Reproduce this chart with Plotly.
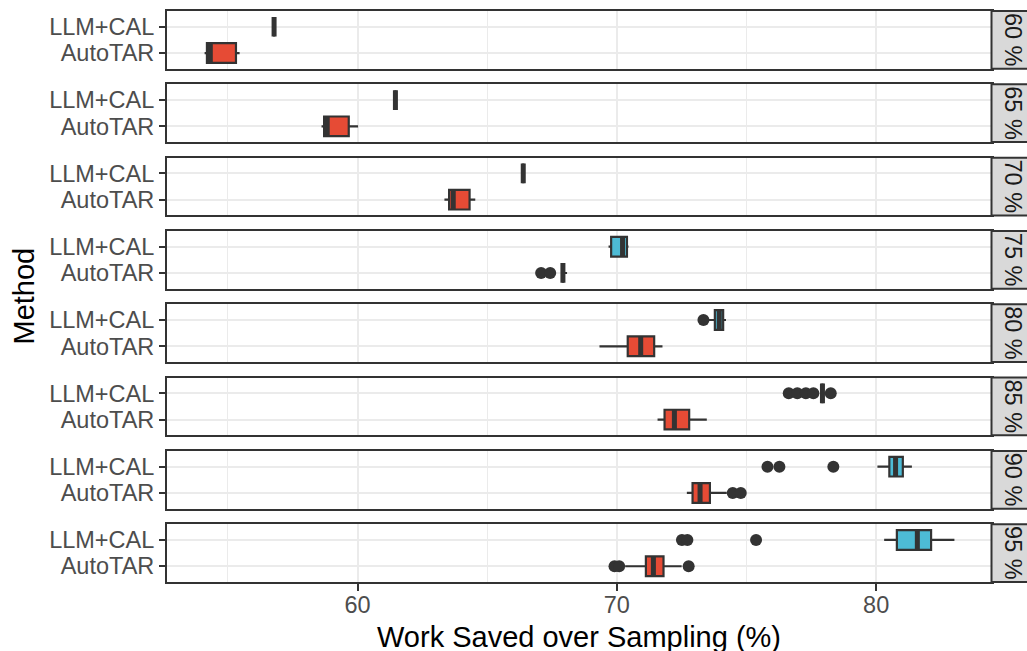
import plotly.graph_objects as go

# ---------------- data ----------------
levels = ["60 %", "65 %", "70 %", "75 %", "80 %", "85 %", "90 %", "95 %"]
methods = ["AutoTAR", "LLM+CAL"]

auto_q1 = [54.19, 58.71, 63.53, 67.92, 70.42, 71.84, 72.92, 71.12]
auto_med = [54.32, 58.83, 63.69, 67.92, 70.92, 72.22, 73.21, 71.41]
auto_q3 = [55.31, 59.66, 64.32, 67.92, 71.44, 72.79, 73.59, 71.80]
auto_lo = [54.10, 58.61, 63.35, 67.92, 69.33, 71.57, 72.70, 70.32]
auto_hi = [55.45, 60.02, 64.54, 68.08, 71.76, 73.47, 74.24, 72.50]
auto_out = [[], [], [], [67.08, 67.43], [], [], [74.47, 74.78],
            [69.91, 70.09, 72.77]]

llm_q1 = [56.78, 61.46, 66.39, 69.78, 73.78, 77.93, 80.51, 80.80]
llm_med = [56.78, 61.46, 66.39, 70.22, 73.95, 77.93, 80.75, 81.59]
llm_q3 = [56.78, 61.46, 66.39, 70.39, 74.10, 77.93, 81.03, 82.12]
llm_lo = [56.78, 61.46, 66.39, 69.68, 73.53, 77.85, 80.05, 80.31]
llm_hi = [56.78, 61.46, 66.39, 70.45, 74.21, 78.02, 81.38, 83.02]
llm_out = [[], [], [], [], [73.34], [76.63, 76.96, 77.29, 77.58, 78.25],
           [75.81, 76.27, 78.35], [72.51, 72.72, 75.37]]

x_range = [52.65, 84.45]
x_title = "Work Saved over Sampling (%)"
y_title = "Method"

# ---------------- styling ----------------
FONT = "Liberation Sans, Arial, sans-serif"
DARK = "#333333"
GRID = "#EBEBEB"
FILL = {"AutoTAR": "#E64B35", "LLM+CAL": "#4DBBD5"}
TICK_SIZE = 23.5

W, H = 1027, 651
ML, MT, MB = 167, 11, 69
PW = W - ML
PH = H - MT - MB
panel_h = 57.8
pitch = (PH - panel_h) / 7
x_right = (991.5 - ML) / PW

stats = {
    "AutoTAR": (auto_q1, auto_med, auto_q3, auto_lo, auto_hi, auto_out),
    "LLM+CAL": (llm_q1, llm_med, llm_q3, llm_lo, llm_hi, llm_out),
}

fig = go.Figure()
shapes = []
annotations = []

for i, lev in enumerate(levels):
    xa = f"x{i + 1}"
    ya = f"y{i + 1}"
    top = min(1.0, max(0.0, 1 - i * pitch / PH))
    bot = min(1.0, max(0.0, top - panel_h / PH))
    for j, m in enumerate(methods):
        q1, med, q3, lo, hi, out = stats[m]
        fig.add_trace(go.Box(
            orientation="h", y=[j], q1=[q1[i]], median=[med[i]], q3=[q3[i]],
            lowerfence=[lo[i]], upperfence=[hi[i]], width=0.75,
            fillcolor=FILL[m], line=dict(color=DARK, width=2.2),
            whiskerwidth=0, boxpoints=False, xaxis=xa, yaxis=ya,
            hoverinfo="skip", showlegend=False))
        fig.add_trace(go.Scatter(
            x=[med[i], med[i]], y=[j - 0.375, j + 0.375], mode="lines",
            line=dict(color=DARK, width=5), xaxis=xa, yaxis=ya,
            hoverinfo="skip", showlegend=False))
        if out[i]:
            fig.add_trace(go.Scatter(
                x=out[i], y=[j] * len(out[i]), mode="markers",
                marker=dict(size=12, color=DARK), xaxis=xa, yaxis=ya,
                cliponaxis=False, hoverinfo="skip", showlegend=False))

    last = i == len(levels) - 1
    xdict = dict(
        domain=[0, x_right], range=x_range, anchor=ya,
        showgrid=True, gridcolor=GRID, gridwidth=1.8, dtick=10, tick0=0,
        minor=dict(dtick=5, tick0=0, showgrid=True, gridcolor=GRID, gridwidth=1.2),
        showline=True, mirror=True, linecolor=DARK, linewidth=2, zeroline=False,
        showticklabels=last, ticks="outside" if last else "", ticklen=7,
        tickwidth=2, tickcolor=DARK,
        tickfont=dict(family=FONT, size=TICK_SIZE, color="#4D4D4D"))
    if last:
        xdict["ticklabelstandoff"] = -6
    if i > 0:
        xdict["matches"] = "x"
    ydict = dict(
        domain=[bot, top], range=[-0.6, 1.6], anchor=xa,
        tickmode="array", tickvals=[0, 1], ticktext=methods,
        showgrid=True, gridcolor=GRID, gridwidth=1.8, zeroline=False,
        showline=True, mirror=True, linecolor=DARK, linewidth=2,
        ticks="outside", ticklen=6, tickwidth=2, tickcolor=DARK,
        tickfont=dict(family=FONT, size=TICK_SIZE, color="#4D4D4D"))
    key = "" if i == 0 else str(i + 1)
    fig.update_layout(**{f"xaxis{key}": xdict, f"yaxis{key}": ydict})

    shapes.append(dict(type="rect", xref="paper", yref="paper",
                       x0=x_right, x1=1.1, y0=bot, y1=top,
                       fillcolor="#D9D9D9", line=dict(color=DARK, width=2)))
    annotations.append(dict(xref="paper", yref="paper",
                            x=(1013 - ML) / PW, y=(top + bot) / 2,
                            text=lev, textangle=90, showarrow=False,
                            xanchor="center", yanchor="middle",
                            font=dict(family=FONT, size=TICK_SIZE, color="#1A1A1A")))

annotations.append(dict(xref="paper", yref="paper", x=(23 - ML) / PW, y=0.5,
                        text=y_title, textangle=-90, showarrow=False,
                        xanchor="center", yanchor="middle",
                        font=dict(family=FONT, size=29, color="black")))
annotations.append(dict(xref="paper", yref="paper",
                        x=(579 - ML) / PW, y=(582 - 637.5) / PH,
                        text=x_title, showarrow=False,
                        xanchor="center", yanchor="middle",
                        font=dict(family=FONT, size=29, color="black")))

fig.update_layout(
    width=W, height=H, margin=dict(l=ML, r=0, t=MT, b=MB, pad=0),
    paper_bgcolor="white", plot_bgcolor="white", showlegend=False,
    font=dict(family=FONT), shapes=shapes, annotations=annotations)

fig.write_html("out.html")
